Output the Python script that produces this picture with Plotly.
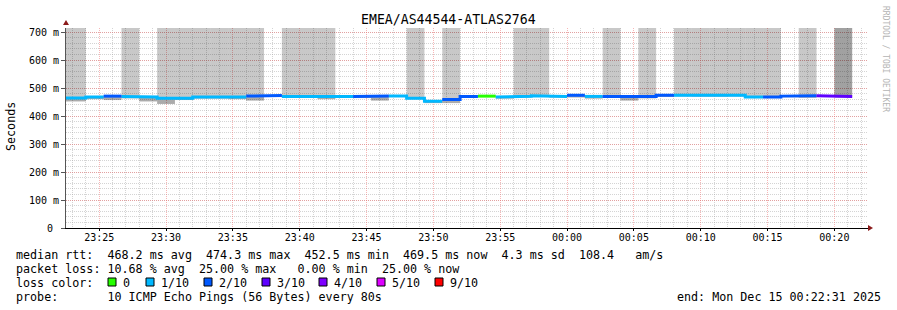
import datetime as dt
import plotly.graph_objects as go

# ---------------- data ----------------
title_text = "EMEA/AS44544-ATLAS2764"
first_step_start = dt.datetime(2025, 12, 14, 23, 21, 20)
step_seconds = 80
view_start = dt.datetime(2025, 12, 14, 23, 22, 31)
view_end = dt.datetime(2025, 12, 15, 0, 22, 31)

median_ms = [464, 464, 468, 471, 470, 468, 463.5, 463, 468, 468,
             468, 471, 473, 470, 470, 470, 470, 470, 471, 471,
             463, 452.5, 458.5, 470, 471, 468, 470.5, 472, 470, 474,
             470, 470, 470, 470, 474, 474, 473, 473, 474.3, 468,
             468, 471, 472, 472, 469.5]
loss_tenths = [1, 1, 1, 2, 1, 1, 1, 1, 1, 1,
               1, 2, 2, 1, 1, 1, 1, 2, 2, 1,
               1, 1, 2, 2, 0, 1, 1, 1, 1, 2,
               1, 2, 2, 2, 2, 1, 1, 1, 1, 1,
               2, 2, 2, 3, 3]
smoke_min_ms = [452, 452, 460, 457, 463, 452, 443, 457, 462, 462,
                460, 455, 470, 465, 465, 460, 466, 464, 455, 468,
                460, 446, 446, 467, 468, 462, 466, 469, 466, 466,
                462, 465, 455, 463, 468, 470, 469, 469, 470, 464,
                464, 467, 465, 468, 466]
smoke_max_ms = [780, 780, 470, 473, 780, 470, 780, 780, 780, 780,
                780, 780, 475, 780, 780, 780, 472, 472, 473, 473,
                780, 455, 780, 472, 473, 470, 780, 780, 472, 476,
                472, 780, 472, 780, 476, 780, 780, 780, 780, 780,
                780, 473, 780, 474, 780]
pings_above = [2, 2, 0, 0, 2, 0, 2, 2, 2, 2,
               2, 2, 0, 2, 2, 2, 0, 0, 0, 0,
               2, 0, 2, 0, 0, 0, 2, 2, 0, 0,
               0, 2, 0, 2, 0, 2, 2, 2, 2, 2,
               2, 0, 2, 0, 4]

loss_levels = [0, 1, 2, 3, 4, 5, 9]
loss_labels = ["0", "1/10", "2/10", "3/10", "4/10", "5/10", "9/10"]
loss_colors = ["#26ff00", "#00b8ff", "#0059ff", "#5e00ff", "#7e00ff", "#dd00ff", "#ff0000"]

y_tick_vals = [0, 100, 200, 300, 400, 500, 600, 700]
y_tick_text = ["0\u00a0", "100 m", "200 m", "300 m", "400 m", "500 m", "600 m", "700 m"]
y_max = 714.3

stats_lines = [
    "median rtt:  468.2 ms avg  474.3 ms max  452.5 ms min  469.5 ms now  4.3 ms sd  108.4   am/s",
    "packet loss: 10.68 % avg  25.00 % max   0.00 % min  25.00 % now",
]
loss_row_label = "loss color:"
probe_text = "probe:       10 ICMP Echo Pings (56 Bytes) every 80s"
end_text = "end: Mon Dec 15 00:22:31 2025"
watermark = "RRDTOOL / TOBI OETIKER"

# ---------------- layout helpers ----------------
W, H = 897, 310
ML, MR, MT, MB = 66, 29, 28, 82
PW, PH = W - ML - MR, H - MT - MB
MONO = "DejaVu Sans Mono"


def px(x):
    return (x - ML) / PW


def py(y):
    return (H - MB - y) / PH


n = len(median_ms)
starts = [first_step_start + dt.timedelta(seconds=step_seconds * k) for k in range(n)]
ends = [s + dt.timedelta(seconds=step_seconds) for s in starts]
centers = [s + dt.timedelta(seconds=step_seconds / 2) for s in starts]
width_ms = step_seconds * 1000

fig = go.Figure()

# lower smoke (min -> median)
fig.add_trace(go.Bar(
    x=centers, base=smoke_min_ms,
    y=[m - lo for m, lo in zip(median_ms, smoke_min_ms)],
    width=[width_ms] * n,
    marker=dict(color="rgba(0,0,0,0.33)", line=dict(width=0)),
    hoverinfo="skip",
))

# upper smoke (median -> max)
shade = {0: "rgba(0,0,0,0.45)", 2: "rgba(0,0,0,0.215)", 4: "rgba(0,0,0,0.37)"}
fig.add_trace(go.Bar(
    x=centers, base=median_ms,
    y=[hi - m for m, hi in zip(median_ms, smoke_max_ms)],
    width=[width_ms] * n,
    marker=dict(color=[shade[p] for p in pings_above], line=dict(width=0)),
    hoverinfo="skip",
))

# median line coloured by loss
for lvl, col in zip(loss_levels, loss_colors):
    xs, ys = [], []
    prev = False
    for k in range(n):
        if loss_tenths[k] == lvl:
            if not prev and xs:
                xs.append(None)
                ys.append(None)
            xs += [starts[k], ends[k]]
            ys += [median_ms[k], median_ms[k]]
            prev = True
        else:
            prev = False
    if xs:
        fig.add_trace(go.Scatter(x=xs, y=ys, mode="lines",
                                 line=dict(color=col, width=3),
                                 hoverinfo="skip", connectgaps=False))

grid_major = "rgba(240,110,110,0.5)"
grid_minor = "rgba(160,160,160,0.45)"
fig.update_layout(
    width=W, height=H,
    margin=dict(l=ML, r=MR, t=MT, b=MB, pad=0),
    paper_bgcolor="white", plot_bgcolor="white",
    showlegend=False, barmode="overlay",
    font=dict(family=MONO, color="#000"),
    xaxis=dict(
        type="date", range=[view_start, view_end],
        tickformat="%H:%M", tick0="2025-12-14 23:00:00", dtick=300000,
        showgrid=True, gridcolor=grid_major, griddash="1px,1px", gridwidth=1,
        minor=dict(dtick=60000, tick0="2025-12-14 23:00:00", showgrid=True,
                   gridcolor=grid_minor, griddash="1px,1px", gridwidth=1),
        showline=True, linecolor="#000", linewidth=1,
        ticks="outside", ticklen=2, tickcolor="#000",
        ticklabelstandoff=-2,
        tickfont=dict(family=MONO, size=10, color="#000"),
        zeroline=False, fixedrange=True,
    ),
    yaxis=dict(
        range=[0, y_max], tickmode="array", tickvals=y_tick_vals, ticktext=y_tick_text,
        showgrid=True, gridcolor=grid_major, griddash="1px,1px", gridwidth=1,
        minor=dict(tickmode="linear", tick0=0, dtick=20, showgrid=True,
                   gridcolor=grid_minor, griddash="1px,1px", gridwidth=1),
        showline=True, linecolor="#555", linewidth=1,
        ticks="outside", ticklen=4, tickcolor="#555",
        tickfont=dict(family=MONO, size=10, color="#000"),
        zeroline=False, fixedrange=True,
    ),
)

# arrows at axis ends
fig.add_shape(type="path", xref="paper", yref="paper", xsizemode="pixel", ysizemode="pixel",
              xanchor=1, yanchor=0, path="M 0,-3 L 5,0 L 0,3 Z",
              fillcolor="#8b1a1a", line=dict(width=0))
fig.add_shape(type="path", xref="paper", yref="paper", xsizemode="pixel", ysizemode="pixel",
              xanchor=0, yanchor=1, path="M -3,3 L 3,3 L 0,8 Z",
              fillcolor="#8b1a1a", line=dict(width=0))

ann = []
# title
ann.append(dict(text=title_text, x=px(448.5), y=py(19.5), xanchor="center", yanchor="middle",
                font=dict(family=MONO, size=13.2, color="#000")))
# y unit label
ann.append(dict(text="Seconds", x=px(11), y=py(127), xanchor="center", yanchor="middle",
                textangle=-90, font=dict(family=MONO, size=11.7, color="#000")))
# watermark
ann.append(dict(text=watermark, x=px(886), y=py(59), xanchor="center", yanchor="middle",
                textangle=90, font=dict(family=MONO, size=8, color="#b4b4b4")))

row_y = [254.5, 268.5, 282.5, 296.5]
LEG_X = 16
for i, line in enumerate(stats_lines):
    ann.append(dict(text=line.replace(" ", "\u00a0"), x=px(LEG_X - 2), y=py(row_y[i]),
                    xanchor="left", yanchor="middle",
                    font=dict(family=MONO, size=11.7, color="#000")))
ann.append(dict(text=loss_row_label.replace(" ", "\u00a0"), x=px(LEG_X - 2), y=py(row_y[2]),
                xanchor="left", yanchor="middle", font=dict(family=MONO, size=11.7, color="#000")))
ann.append(dict(text=probe_text.replace(" ", "\u00a0"), x=px(LEG_X - 2), y=py(row_y[3]),
                xanchor="left", yanchor="middle", font=dict(family=MONO, size=11.7, color="#000")))
ann.append(dict(text=end_text.replace(" ", "\u00a0"), x=px(883), y=py(row_y[3]),
                xanchor="right", yanchor="middle", font=dict(family=MONO, size=11.7, color="#000")))

box_left = [108, 146, 204, 262, 319, 377, 435]
for bx, lab, col in zip(box_left, loss_labels, loss_colors):
    fig.add_shape(type="rect", xref="paper", yref="paper",
                  x0=px(bx), x1=px(bx + 8), y0=py(286), y1=py(278),
                  fillcolor=col, line=dict(color="#000", width=1))
    ann.append(dict(text=lab, x=px(bx + 13), y=py(row_y[2]), xanchor="left", yanchor="middle",
                    font=dict(family=MONO, size=11.7, color="#000")))

for a in ann:
    a.update(xref="paper", yref="paper", showarrow=False)
fig.update_layout(annotations=ann)

fig.write_html("out.html")
